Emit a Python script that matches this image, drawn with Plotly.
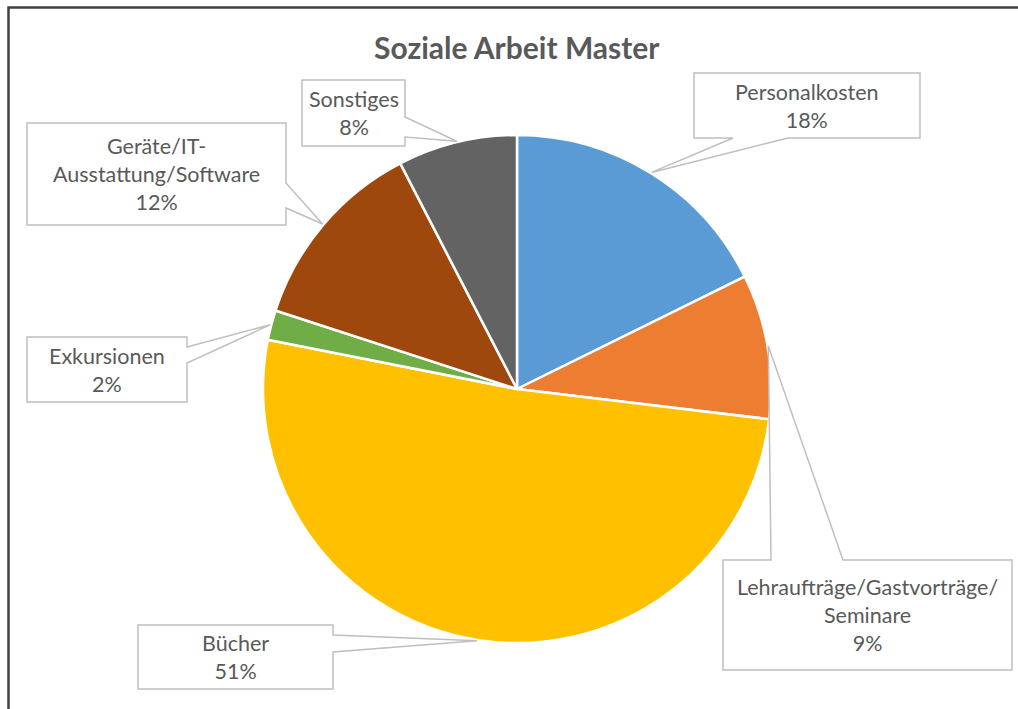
import math
import plotly.graph_objects as go

# ---- data ----
categories = ["Personalkosten", "Lehraufträge/Gastvorträge/<br>Seminare", "Bücher",
              "Exkursionen", "Geräte/IT-<br>Ausstattung/Software", "Sonstiges"]
values = [17.7, 9.2, 51.2, 1.9, 12.4, 7.6]
colors = ["#5B9BD5", "#ED7D31", "#FFC000", "#70AD47", "#9E480E", "#636363"]
title_text = "Soziale Arbeit Master"

# ---- layout constants (pixels) ----
W, H = 1018, 709
CX, CY, R = 517, 389, 254

# callout boxes: (left, top, right, bottom, side, base1, base2)
boxes = [
    (694, 73, 920, 138, "bottom", 733, 788),
    (723, 560, 1012, 670, "top", 771, 843),
    (138, 625, 333, 689, "right", 635, 652),
    (27, 337, 187, 402, "right", 347, 363),
    (27, 123, 286, 225, "right", 183, 208),
    (302, 80, 405, 146, "right", 117, 137),
]

def px(x):
    return x / W

def py(y):
    return 1 - y / H

total = sum(values)
pcts = [round(v / total * 100) for v in values]

fig = go.Figure(go.Pie(
    labels=[c.replace("<br>", "") for c in categories],
    values=values,
    sort=False,
    direction="clockwise",
    rotation=0,
    marker=dict(colors=colors, line=dict(color="white", width=2.5)),
    textinfo="none",
    showlegend=False,
    hoverinfo="none",
    domain=dict(x=[px(CX - R), px(CX + R)], y=[py(CY + R), py(CY - R)]),
))

shapes = []
annotations = []
cum = 0
for i, v in enumerate(values):
    mid = (cum + v / 2) / total * 2 * math.pi
    cum += v
    tx = CX + (R + 1) * math.sin(mid)
    ty = CY - (R + 1) * math.cos(mid)
    L, T, Rt, B, side, b1, b2 = boxes[i]
    if side == "bottom":
        pts = [(L, T), (Rt, T), (Rt, B), (b2, B), (tx, ty), (b1, B), (L, B)]
    elif side == "top":
        pts = [(L, T), (b1, T), (tx, ty), (b2, T), (Rt, T), (Rt, B), (L, B)]
    else:
        pts = [(L, T), (Rt, T), (Rt, b1), (tx, ty), (Rt, b2), (Rt, B), (L, B)]
    path = "M " + " L ".join(f"{px(x):.5f},{py(y):.5f}" for x, y in pts) + " Z"
    shapes.append(dict(type="path", path=path, xref="paper", yref="paper",
                       line=dict(color="#BFBFBF", width=1.5), fillcolor="white",
                       layer="above"))
    annotations.append(dict(
        x=px((L + Rt) / 2), y=py((T + B) / 2), xref="paper", yref="paper",
        text=f"{categories[i]}<br>{pcts[i]}%", showarrow=False,
        xanchor="center", yanchor="middle", align="center",
        font=dict(family="Lato, Carlito, sans-serif", size=21.5, color="#595959"),
    ))

# outer chart border (only left and top edges fall inside the page)
shapes.append(dict(type="rect", xref="paper", yref="paper",
                   x0=px(8.5), x1=px(1100), y0=py(7.5), y1=py(800),
                   line=dict(color="#404040", width=2.5), fillcolor="rgba(0,0,0,0)",
                   layer="above"))

annotations.append(dict(
    x=px(517), y=py(47), xref="paper", yref="paper", text=f"<b>{title_text}</b>",
    showarrow=False, xanchor="center", yanchor="middle",
    font=dict(family="Lato, Carlito, sans-serif", size=30, color="#595959"),
))

fig.update_layout(
    width=W, height=H,
    margin=dict(l=0, r=0, t=0, b=0),
    paper_bgcolor="white", plot_bgcolor="white",
    shapes=shapes, annotations=annotations,
)

fig.write_html("out.html",
               config={"displayModeBar": False},
               post_script="document.body.style.margin='0';document.body.style.overflow='hidden';")
